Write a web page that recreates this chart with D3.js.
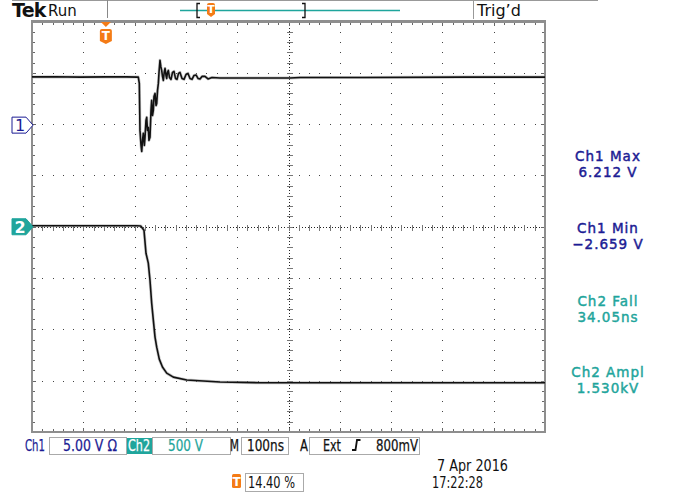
<!DOCTYPE html>
<html>
<head>
<meta charset="utf-8">
<script src="https://cdn.jsdelivr.net/npm/d3@7"></script>
<style>
  html, body { margin: 0; padding: 0; background: #fff; }
  svg { display: block; }
  text { font-family: "DejaVu Sans", sans-serif; }
</style>
</head>
<body>
<svg id="scope" width="683" height="493"></svg>
<script>
// Channel 1 trace: time (ns, relative to trigger) and volts
const ch1Trace = [
  [-144, 4.6], [-100, 4.62], [-50, 4.58], [0, 4.6], [40, 4.6], [60.7, 4.58],
  [63.2, 4.58], [65.2, 3.97], [66.5, -0.61], [68.5, -2.07], [69.9, -2.659],
  [71.4, -1.58], [73, -0.9], [75, -2.07], [76.3, -1.29], [78.2, 0.37],
  [79.6, 0.66], [81.1, -0.61], [82.7, -0.32], [84, -1.58], [86, -1.29],
  [88, 1.34], [89.3, 2.31], [90.9, 0.85], [92.5, 1.34], [93.8, 2.7],
  [95.8, 2.99], [97.8, 1.82], [99.1, 2.02], [100.7, 3.29], [102.3, 3.97],
  [103.6, 5.04], [105.5, 6.212], [107.1, 5.62], [108.8, 5.23], [110.4, 4.65],
  [112, 4.26], [113.7, 5.04], [115.3, 5.43], [117.2, 4.74], [118.6, 4.45],
  [120.1, 5.04], [121.7, 5.23], [124, 4.55], [127, 4.36], [129.9, 5.04],
  [132.8, 5.14], [135.7, 4.45], [138.7, 4.36], [141.6, 4.94], [144.5, 5.04],
  [148.4, 4.45], [152.3, 4.36], [156.2, 4.84], [160.1, 4.94], [164, 4.45],
  [167.9, 4.36], [171.8, 4.74], [175.7, 4.79], [179.6, 4.45], [183.5, 4.4],
  [187.4, 4.65], [193.2, 4.65], [199.1, 4.4], [206.9, 4.55], [222.5, 4.5],
  [300, 4.5], [358.9, 4.5], [378.4, 4.55], [500, 4.55], [700, 4.58], [856, 4.58]
];

// Channel 2 trace: time (ns) and volts
const ch2Trace = [
  [-144, 10], [60, 10], [67.9, 8], [74.3, -34], [78.2, -258], [82.7, -355],
  [86, -521], [89.3, -745], [92.5, -910], [95.8, -1075], [99.1, -1173],
  [104.1, -1290], [110.3, -1367], [118.6, -1426], [131.5, -1465],
  [157.6, -1494], [222.5, -1513], [300, -1520], [856, -1520]
];

// Acquisition settings
const timePerDiv = 100;          // ns/div
const triggerPercent = 14.40;    // trigger position in record
const ch1VoltsPerDiv = 5;
const ch1OffsetDiv = 2;          // ground marker 2 div above centre
const ch2VoltsPerDiv = 500;
const ch2OffsetDiv = 0;

// Readouts
const measureLabels = ["Ch1 Max", "Ch1 Min", "Ch2 Fall", "Ch2 Ampl"];
const measureValues = ["6.212 V", "\u22122.659 V", "34.05ns", "1.530kV"];
const measureChannel = [1, 1, 2, 2];

const settingTexts = ["Ch1", "5.00 V \u03A9", "Ch2", "500 V", "M", "100ns", "A", "Ext", "800mV"];
const dateText = "7 Apr  2016";
const timeText = "17:22:28";
const triggerText = "14.40 %";

const NAVY = "#1c1c94";
const TEAL = "#1fa59c";
const ORANGE = "#f47b16";
const FRAME = "#8e8e8e";

const svg = d3.select("#scope");
svg.append("rect").attr("width", 683).attr("height", 493).attr("fill", "#fff");

// Graticule geometry in divisions
const gx = d3.scaleLinear().domain([0, 10]).range([32, 545]);
const gy = d3.scaleLinear().domain([-4, 4]).range([432, 21.5]);
const tStart = -triggerPercent / 100 * 10 * timePerDiv;
const xt = d3.scaleLinear().domain([tStart, tStart + 10 * timePerDiv]).range([32, 545]);

const grid = svg.append("g").attr("shape-rendering", "crispEdges");
const sub = d3.range(0, 50.5, 1).map(k => k / 5);   // x sub-divisions
const subY = d3.range(0, 40.5, 1).map(k => -4 + k / 5);

// Dotted graticule lines
const dots = [];
d3.range(1, 10).filter(i => i !== 5).forEach(i => subY.forEach(v => dots.push([gx(i), gy(v)])));
d3.range(-3, 4).filter(j => j !== 0).forEach(j => sub.forEach(u => dots.push([gx(u), gy(j)])));
grid.selectAll("rect.dot").data(dots).join("rect")
  .attr("class", "dot")
  .attr("x", d => Math.round(d[0]) - 0.5).attr("y", d => Math.round(d[1]) - 0.5)
  .attr("width", 1.2).attr("height", 1.2).attr("fill", "#444");

// Centre cross
grid.append("line").attr("x1", gx(0)).attr("x2", gx(10)).attr("y1", Math.round(gy(0)) + 0.5).attr("y2", Math.round(gy(0)) + 0.5)
  .attr("stroke", "#222").attr("stroke-dasharray", "1,2");
grid.append("line").attr("y1", gy(4)).attr("y2", gy(-4)).attr("x1", Math.round(gx(5)) + 0.5).attr("x2", Math.round(gx(5)) + 0.5)
  .attr("stroke", "#222").attr("stroke-dasharray", "1,2");
grid.selectAll("line.ctx").data(sub).join("line").attr("class", "ctx")
  .attr("x1", d => Math.round(gx(d)) + 0.5).attr("x2", d => Math.round(gx(d)) + 0.5)
  .attr("y1", Math.round(gy(0)) - 2.5).attr("y2", Math.round(gy(0)) + 3.5)
  .attr("stroke", "#777");
grid.selectAll("line.cty").data(subY).join("line").attr("class", "cty")
  .attr("y1", d => Math.round(gy(d)) + 0.5).attr("y2", d => Math.round(gy(d)) + 0.5)
  .attr("x1", Math.round(gx(5)) - 2.5).attr("x2", Math.round(gx(5)) + 3.5)
  .attr("stroke", "#777");

// Edge ticks
const tickLen = v => (Math.abs(v - Math.round(v)) < 1e-6 ? 4 : 3);
grid.selectAll("line.et").data(sub).join("line").attr("class", "et")
  .attr("x1", d => Math.round(gx(d)) + 0.5).attr("x2", d => Math.round(gx(d)) + 0.5)
  .attr("y1", gy(4)).attr("y2", d => gy(4) + tickLen(d)).attr("stroke", "#666");
grid.selectAll("line.eb").data(sub).join("line").attr("class", "eb")
  .attr("x1", d => Math.round(gx(d)) + 0.5).attr("x2", d => Math.round(gx(d)) + 0.5)
  .attr("y1", gy(-4)).attr("y2", d => gy(-4) - tickLen(d)).attr("stroke", "#666");
grid.selectAll("line.el").data(subY).join("line").attr("class", "el")
  .attr("y1", d => Math.round(gy(d)) + 0.5).attr("y2", d => Math.round(gy(d)) + 0.5)
  .attr("x1", gx(0)).attr("x2", d => gx(0) + tickLen(d)).attr("stroke", "#666");
grid.selectAll("line.er").data(subY).join("line").attr("class", "er")
  .attr("y1", d => Math.round(gy(d)) + 0.5).attr("y2", d => Math.round(gy(d)) + 0.5)
  .attr("x1", gx(10)).attr("x2", d => gx(10) - tickLen(d)).attr("stroke", "#666");

// Frame
grid.append("rect").attr("x", gx(0)).attr("y", gy(4)).attr("width", gx(10) - gx(0)).attr("height", gy(-4) - gy(4))
  .attr("fill", "none").attr("stroke", FRAME).attr("stroke-width", 2.4);

// Waveforms
const line1 = d3.line().x(d => xt(d[0])).y(d => gy(d[1] / ch1VoltsPerDiv + ch1OffsetDiv));
const line2 = d3.line().x(d => xt(d[0])).y(d => gy(d[1] / ch2VoltsPerDiv + ch2OffsetDiv));
const traces = svg.append("g").attr("fill", "none").attr("stroke-linejoin", "round");
[line1(ch1Trace), line2(ch2Trace)].forEach(p => {
  traces.append("path").attr("d", p).attr("stroke", "#9a9a9a").attr("stroke-width", 3).attr("opacity", 0.55);
  traces.append("path").attr("d", p).attr("stroke", "#111").attr("stroke-width", 1.6);
});

// Channel ground markers
function chMarker(cy, label, filled) {
  const g = svg.append("g");
  const pts = [[12, cy - 8], [26, cy - 8], [33, cy], [26, cy + 8], [12, cy + 8]];
  g.append("path").attr("d", d3.line()(pts) + "Z")
    .attr("fill", filled ? TEAL : "#fff").attr("stroke", filled ? TEAL : NAVY).attr("stroke-width", 1);
  g.append("text").attr("x", 20).attr("y", cy + 6).attr("text-anchor", "middle")
    .attr("font-size", 16).attr("font-weight", filled ? "bold" : "normal")
    .attr("fill", filled ? "#fff" : NAVY).text(label);
}
chMarker(gy(ch1OffsetDiv) + 1, "1", false);
chMarker(gy(ch2OffsetDiv), "2", true);

// Trigger "T" marker
function tMarker(cx, top, w, h, tri) {
  const g = svg.append("g");
  if (tri) {
    g.append("path").attr("d", `M${cx - 5},${top}L${cx + 5},${top}L${cx},${top + 5}Z`).attr("fill", ORANGE);
    top += 7;
  }
  g.append("path").attr("d",
    `M${cx - w / 2},${top + 2}Q${cx - w / 2},${top} ${cx - w / 2 + 2},${top}L${cx + w / 2 - 2},${top}Q${cx + w / 2},${top} ${cx + w / 2},${top + 2}` +
    `L${cx + w / 2},${top + h - 3}L${cx},${top + h}L${cx - w / 2},${top + h - 3}Z`).attr("fill", ORANGE);
  g.append("text").attr("x", cx).attr("y", top + h - 4).attr("text-anchor", "middle")
    .attr("font-size", h - 3).attr("font-weight", "bold").attr("fill", "#fff").text("T");
}
tMarker(xt(0), 22, 12, 15, true);

// Header
svg.append("line").attr("x1", 12).attr("x2", 598).attr("y1", 0.5).attr("y2", 0.5).attr("stroke", "#999");
svg.append("line").attr("x1", 107.5).attr("x2", 107.5).attr("y1", 0).attr("y2", 18).attr("stroke", "#888");
svg.append("line").attr("x1", 473.5).attr("x2", 473.5).attr("y1", 0).attr("y2", 19).attr("stroke", "#999");
svg.append("text").attr("x", 12).attr("y", 17).attr("font-family", "Liberation Sans, Arial, sans-serif")
  .attr("font-weight", "bold").attr("font-size", 19).attr("letter-spacing", -0.8).attr("fill", "#111").text("Tek");
svg.append("text").attr("x", 48).attr("y", 16).attr("font-size", 15).attr("fill", "#111").text("Run");
svg.append("text").attr("x", 477).attr("y", 16).attr("font-size", 16).attr("fill", "#111").text("Trig\u2019d");

// Record view bar
svg.append("line").attr("x1", 180).attr("x2", 400).attr("y1", 10.5).attr("y2", 10.5).attr("stroke", TEAL).attr("stroke-width", 1.3);
[[197, 1], [305, -1]].forEach(([bx, dir]) => {
  svg.append("path").attr("d", `M${bx + 3 * dir},3.5H${bx}V17.5H${bx + 3 * dir}`)
    .attr("fill", "none").attr("stroke", "#111").attr("stroke-width", 1.3);
});
tMarker(211, 3, 8, 14, false);

// Measurement readouts
const mY = [161, 233, 306, 377];
measureLabels.forEach((lab, i) => {
  const col = measureChannel[i] === 1 ? NAVY : TEAL;
  [lab, measureValues[i]].forEach((s, k) => {
    svg.append("text").attr("x", 608).attr("y", mY[i] + 16 * k).attr("text-anchor", "middle")
      .attr("font-size", 13.5).attr("letter-spacing", 1).attr("fill", col)
      .attr("stroke", col).attr("stroke-width", 0.45).text(s);
  });
});

// Settings bar
const boxes = [[49, 126], [152, 230], [241, 288], [309, 419]];
boxes.forEach(([a, b]) => {
  svg.append("rect").attr("x", a + 0.5).attr("y", 437.5).attr("width", b - a).attr("height", 17)
    .attr("fill", "#fff").attr("stroke", "#aaa");
});
svg.append("rect").attr("x", 127).attr("y", 438).attr("width", 25).attr("height", 16).attr("fill", TEAL);
const settingPos = [
  [25, 20, NAVY], [63, 54, NAVY], [128, 22, "#fff"], [168, 35, TEAL], [230, 9, "#111"],
  [247, 37, "#111"], [300, 8, "#111"], [323, 18, "#111"], [376, 42, "#111"]
];
settingTexts.forEach((s, i) => {
  const [x, w, c] = settingPos[i];
  svg.append("text").attr("x", x).attr("y", 451).attr("font-size", 15).attr("fill", c)
    .attr("stroke", c).attr("stroke-width", 0.25)
    .attr("textLength", w).attr("lengthAdjust", "spacingAndGlyphs").text(s);
});
// rising edge glyph
svg.append("path").attr("d", "M352,450H355.5L357,440H360.5").attr("fill", "none").attr("stroke", "#111").attr("stroke-width", 1.8);

// Trigger position readout
svg.append("rect").attr("x", 232).attr("y", 474).attr("width", 9).attr("height", 14).attr("rx", 1.5).attr("fill", ORANGE);
svg.append("text").attr("x", 236.5).attr("y", 486).attr("text-anchor", "middle").attr("font-size", 12)
  .attr("font-weight", "bold").attr("fill", "#fff").text("T");
svg.append("rect").attr("x", 245.5).attr("y", 473.5).attr("width", 58).attr("height", 18).attr("fill", "#fff").attr("stroke", "#aaa");
svg.append("text").attr("x", 248).attr("y", 488).attr("font-size", 15).attr("fill", "#111")
  .attr("textLength", 47).attr("lengthAdjust", "spacingAndGlyphs").text(triggerText);

// Date and time
svg.append("text").attr("x", 508).attr("y", 471).attr("text-anchor", "end").attr("font-size", 15).attr("fill", "#111")
  .attr("textLength", 71).attr("lengthAdjust", "spacingAndGlyphs").text(dateText);
svg.append("text").attr("x", 432).attr("y", 488).attr("font-size", 15).attr("fill", "#111")
  .attr("textLength", 51).attr("lengthAdjust", "spacingAndGlyphs").text(timeText);
</script>
</body>
</html>
